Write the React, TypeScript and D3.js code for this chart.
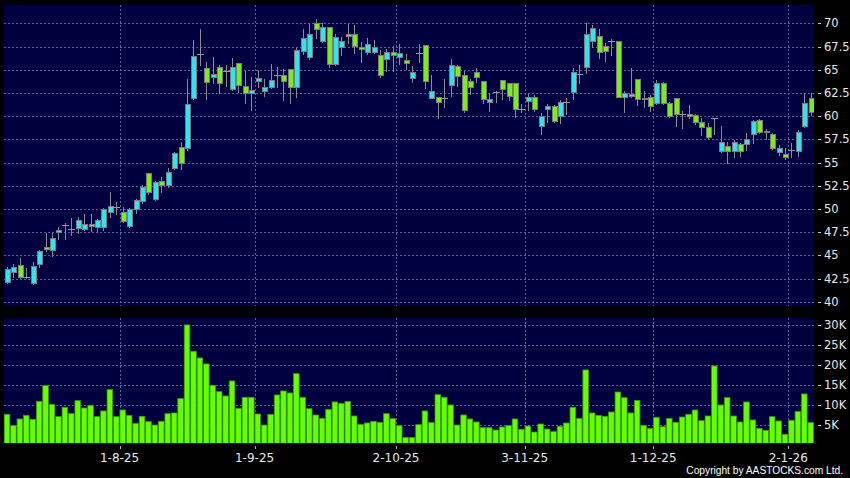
import React from "react";
import * as d3 from "d3";

// ---- Data ----
const openP = [42.16,43.17,43.92,42.63,41.98,44.03,45.86,45.57,47.48,48.27,47.87,47.98,47.80,48.41,48.02,48.02,49.63,50.24,49.63,48.12,49.96,50.82,53.84,51.03,53.01,52.54,54.37,56.67,56.53,61.92,66.66,65.15,64.18,65.33,64.90,62.89,65.69,63.28,62.46,63.82,62.74,63.10,64.43,64.40,65.04,63.10,67.05,66.34,70.00,68.13,69.57,65.62,67.41,68.64,68.81,67.49,66.95,66.95,66.55,66.12,66.87,66.41,66.01,64.15,66.84,67.63,61.99,62.03,61.99,63.32,65.37,64.40,63.75,64.76,63.79,61.49,62.64,63.86,63.53,63.53,60.73,61.67,62.03,58.97,60.73,61.09,59.98,61.49,62.56,64.54,65.33,68.06,68.60,67.52,68.13,68.06,62.10,62.42,63.97,61.81,62.03,61.38,63.53,61.38,61.92,60.23,60.01,60.16,59.33,58.79,59.76,56.21,56.75,56.21,57.00,57.03,58.04,59.55,58.25,58.04,56.10,55.92,56.35,56.28,58.97,61.92];
const highP = [43.78,44.03,44.75,43.60,44.32,45.57,47.44,47.37,48.09,48.45,48.99,49.09,49.45,49.45,48.95,50.06,51.82,50.78,50.24,50.06,51.07,52.58,53.91,53.05,53.48,54.37,56.17,57.18,64.00,68.20,69.35,65.83,66.34,65.51,65.51,66.23,65.76,64.86,64.18,64.97,64.04,65.62,65.33,65.04,65.08,67.31,69.35,70.00,70.43,70.00,69.64,68.85,68.56,69.93,69.82,68.02,68.38,68.20,67.13,67.20,67.56,67.77,66.70,65.44,67.77,67.67,64.43,62.10,64.00,66.12,65.51,64.90,63.97,65.22,63.82,62.53,62.74,63.89,63.61,63.61,61.31,62.35,62.28,60.30,61.31,61.20,61.74,61.92,65.15,65.51,70.00,69.82,69.39,67.84,68.28,68.13,62.74,65.15,64.04,62.74,62.24,63.89,63.68,61.56,61.99,60.55,61.20,60.23,59.76,59.22,59.83,58.94,57.25,57.43,57.14,58.22,59.58,59.66,58.58,58.15,56.89,56.53,57.14,58.51,62.53,62.53];
const lowP = [41.98,42.70,42.52,42.52,41.91,43.78,45.50,44.93,46.80,46.80,47.16,47.37,47.73,47.66,47.48,47.73,49.09,49.42,48.63,48.09,49.60,50.68,51.57,50.96,51.86,52.40,54.27,54.34,56.35,61.81,65.51,61.88,63.53,62.53,63.25,62.82,62.64,61.45,60.66,63.10,62.17,63.00,63.10,61.74,61.38,62.10,66.66,66.16,68.46,68.02,65.33,65.51,66.59,67.92,66.84,65.87,66.70,66.77,64.25,64.90,64.90,65.62,65.04,63.71,65.87,63.00,61.92,59.76,61.02,62.17,63.25,60.48,62.35,63.71,61.38,60.59,61.52,61.88,61.74,59.94,60.41,60.66,60.55,58.07,59.40,59.40,59.30,60.23,61.85,63.53,64.68,67.49,66.30,65.98,66.59,62.03,60.48,62.03,61.20,61.02,60.59,61.31,61.31,59.87,58.94,58.76,59.76,59.15,57.97,57.61,58.07,56.17,54.91,55.63,55.70,56.35,57.14,58.15,57.50,56.46,55.81,55.42,55.63,55.74,58.86,60.12];
const closeP = [43.49,43.71,42.70,42.63,43.81,45.43,45.65,46.83,47.73,48.27,47.87,48.77,48.41,48.20,48.77,49.96,50.28,50.24,48.74,49.96,50.93,52.33,51.79,52.87,52.54,53.98,55.99,54.91,61.27,66.44,66.66,63.64,64.50,63.53,64.90,65.33,63.35,62.46,62.82,64.07,63.10,63.86,64.43,63.82,63.10,67.13,68.38,68.81,69.35,69.57,65.58,68.56,68.06,68.85,67.56,67.20,67.74,67.41,64.47,66.87,66.55,66.77,65.76,64.76,66.84,63.75,62.71,61.49,61.99,65.47,64.32,60.70,63.18,64.25,61.88,61.81,62.64,62.96,62.21,60.73,60.73,62.03,60.80,60.01,61.06,59.51,61.49,61.49,64.72,64.54,68.81,69.46,66.95,67.05,68.13,62.10,62.53,62.21,61.81,61.99,61.13,63.53,61.38,60.05,60.23,60.23,60.19,59.33,58.79,57.79,59.76,57.25,56.21,57.18,56.28,57.50,59.44,58.25,58.43,56.53,56.53,55.56,56.35,58.25,61.38,60.41];
const volumeK = [7.73,4.91,6.57,7.48,6.48,10.96,14.86,10.23,7.15,9.47,7.89,11.13,9.30,9.97,7.15,8.56,13.86,7.15,8.81,7.48,5.49,7.23,5.90,5.07,5.99,7.89,8.06,11.63,29.95,23.40,21.74,20.25,14.94,13.37,12.29,16.02,9.22,11.96,11.96,7.81,5.07,7.73,12.54,13.53,13.04,17.84,11.96,9.14,7.56,6.73,8.97,10.80,10.46,10.96,7.31,5.24,5.57,5.99,5.74,7.89,6.65,4.91,2.01,1.93,5.16,8.56,5.66,12.62,11.96,10.05,5.07,7.56,6.57,5.82,4.41,4.41,3.83,4.58,4.91,6.57,4.00,4.83,3.33,5.32,4.08,3.42,4.74,5.57,9.47,6.73,18.76,8.06,7.48,7.23,8.31,13.28,11.87,8.06,11.19,4.99,4.25,6.98,4.66,6.73,5.74,7.06,7.73,8.81,6.15,7.31,19.75,10.05,11.87,7.31,5.82,10.80,6.32,4.25,3.75,7.15,6.07,2.75,6.24,8.47,12.79,5.66];

const monthTickIndex = [17, 38, 60, 80, 100, 121];
const monthTickLabels = ["1-8-25", "1-9-25", "2-10-25", "3-11-25", "1-12-25", "2-1-26"];
const priceTicks = [40, 42.5, 45, 47.5, 50, 52.5, 55, 57.5, 60, 62.5, 65, 67.5, 70];
const volumeTicks = [5000, 10000, 15000, 20000, 25000, 30000];
const volumeTickLabels = ["5K", "10K", "15K", "20K", "25K", "30K"];

const W = 850, H = 478;
const BG = "#000040";
const CYAN = "#2ee4f0";
const GREEN = "#7aee18";
const GRID = "#5e5e98";
const FONT = "'DejaVu Sans', Verdana, sans-serif";

export default function App() {
  const n = openP.length;
  const x = d3.scaleLinear().domain([0, n - 1]).range([7, 7 + 6.43 * (n - 1)]);
  const yP = d3.scaleLinear().domain([40, 70]).range([301.7, 23.3]);
  const yV = d3.scaleLinear().domain([0, 30000]).range([445.4, 324.7]);
  const panelL = 4, panelR = 814;
  const priceTop = 5, priceBot = 306;
  const volTop = 318, volBot = 443;
  const slot = x(1) - x(0);

  const px = (v: number) => Math.round(v) + 0.5;

  return (
    <svg width={W} height={H} style={{ position: "absolute", left: 0, top: 0, display: "block" }}
      xmlns="http://www.w3.org/2000/svg">
      <defs>
        <clipPath id="pclip"><rect x={panelL} y={priceTop} width={panelR - panelL} height={priceBot - priceTop} /></clipPath>
        <clipPath id="vclip"><rect x={panelL} y={volTop} width={panelR - panelL} height={volBot - volTop} /></clipPath>
      </defs>
      <rect x={0} y={0} width={W} height={H} fill="#000" />
      <rect x={panelL} y={priceTop} width={panelR - panelL} height={priceBot - priceTop} fill={BG} />
      <rect x={panelL} y={volTop} width={panelR - panelL} height={volBot - volTop} fill={BG} />

      {/* grid */}
      <g stroke={GRID} strokeWidth={1} strokeDasharray="2,2" shapeRendering="crispEdges">
        {priceTicks.map((t) => (
          <line key={"pg" + t} x1={panelL} x2={panelR} y1={px(yP(t))} y2={px(yP(t))} />
        ))}
        {volumeTicks.map((t) => (
          <line key={"vg" + t} x1={panelL} x2={panelR} y1={px(yV(t))} y2={px(yV(t))} />
        ))}
        {monthTickIndex.map((idx) => (
          <g key={"mg" + idx}>
            <line x1={px(x(idx) + slot / 2)} x2={px(x(idx) + slot / 2)} y1={priceTop} y2={priceBot} />
            <line x1={px(x(idx) + slot / 2)} x2={px(x(idx) + slot / 2)} y1={volTop} y2={volBot} />
          </g>
        ))}
      </g>

      {/* candles */}
      <g clipPath="url(#pclip)" shapeRendering="crispEdges">
        {openP.map((o, i) => {
          const c = closeP[i];
          const cx = Math.round(x(i));
          const yTop = Math.round(yP(Math.max(o, c)));
          const yBot = Math.round(yP(Math.min(o, c)));
          const hi = Math.round(yP(highP[i]));
          const lo = Math.round(yP(lowP[i]));
          const doji = Math.abs(yBot - yTop) < 1;
          return (
            <g key={"c" + i}>
              <line x1={cx + 0.5} x2={cx + 0.5} y1={hi} y2={lo + 1} stroke="#8c8c8c" strokeWidth={1} />
              {doji ? (
                <line x1={cx - 3} x2={cx + 4} y1={yTop + 0.5} y2={yTop + 0.5} stroke="#9a9a9a" strokeWidth={1.5} />
              ) : (
                <rect x={cx - 2 + 0.5} y={yTop + 0.5} width={5} height={yBot - yTop}
                  fill={c >= o ? CYAN : GREEN} stroke="#7c7c7c" strokeWidth={1} />
              )}
            </g>
          );
        })}
      </g>

      {/* volume */}
      <g clipPath="url(#vclip)">
        {volumeK.map((v, i) => (
          <rect key={"v" + i} x={x(i) - 2.8} y={yV(v * 1000)} width={5.6}
            height={yV(0) - yV(v * 1000)} fill="#66ff00" stroke="#3a9a00" strokeWidth={0.8} />
        ))}
      </g>

      {/* right axis */}
      <g fontFamily={FONT} fontSize={11.5} fill="#e8e8e8">
        {priceTicks.map((t) => (
          <g key={"pl" + t}>
            <line x1={818} x2={821} y1={px(yP(t))} y2={px(yP(t))} stroke="#cccccc" strokeWidth={1} shapeRendering="crispEdges" />
            <text x={824} y={yP(t)} dominantBaseline="central">{String(t)}</text>
          </g>
        ))}
        {volumeTicks.map((t, k) => (
          <g key={"vl" + t}>
            <line x1={818} x2={821} y1={px(yV(t))} y2={px(yV(t))} stroke="#cccccc" strokeWidth={1} shapeRendering="crispEdges" />
            <text x={824} y={yV(t)} dominantBaseline="central">{volumeTickLabels[k]}</text>
          </g>
        ))}
      </g>

      {/* bottom axis */}
      <g fontFamily={FONT} fontSize={12} fill="#e8e8e8">
        {monthTickIndex.map((idx, k) => (
          <g key={"ml" + idx}>
            <line x1={px(x(idx) + slot / 2)} x2={px(x(idx) + slot / 2)} y1={446} y2={449} stroke="#aaaaaa" strokeWidth={1} shapeRendering="crispEdges" />
            <text x={x(idx) + slot / 2} y={461.5} textAnchor="middle">{monthTickLabels[k]}</text>
          </g>
        ))}
      </g>
      <text x={843} y={474} textAnchor="end" fontFamily="'Liberation Sans', Arial, sans-serif" fontSize={10.2} fill="#ffffff">
        Copyright by AASTOCKS.com Ltd.
      </text>
    </svg>
  );
}
